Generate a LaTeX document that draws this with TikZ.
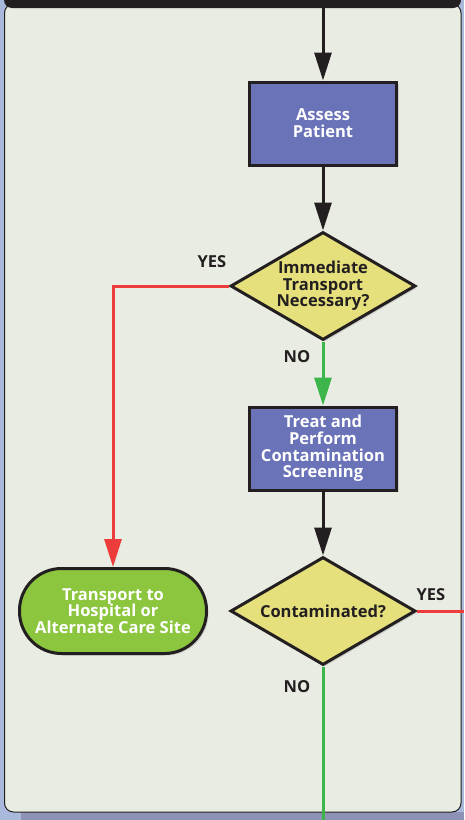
\documentclass[tikz,border=0pt]{standalone}
\usepackage{fontspec}
\setmainfont{Open Sans}
\usetikzlibrary{positioning,arrows.meta,shapes.geometric,shadows}

\definecolor{bgblue}{HTML}{A9B9DC}
\definecolor{shadowblue}{HTML}{8E93B5}
\definecolor{panel}{HTML}{E9ECE3}
\definecolor{ink}{HTML}{231F20}
\definecolor{boxblue}{HTML}{6A72B8}
\definecolor{diayellow}{HTML}{E5E07B}
\definecolor{termgreen}{HTML}{8CC63F}
\definecolor{yesred}{HTML}{EE3B3B}
\definecolor{nogreen}{HTML}{3CB54A}

\tikzset{
  flowfont/.style={font=\bfseries\fontsize{16.5}{16.7}\selectfont},
  softshadow/.style={drop shadow={opacity=0.25,shadow xshift=2pt,shadow yshift=-2pt}},
  stepbox/.style={draw=ink,line width=3pt,fill=boxblue,minimum width=147pt,minimum height=83pt,
    text=white,align=center,flowfont,softshadow},
  question/.style={diamond,draw=ink,line width=3pt,fill=diayellow,minimum width=185pt,minimum height=108pt,
    aspect=1.7,inner sep=0pt,text=ink,align=center,flowfont,softshadow},
  terminal/.style={draw=ink,line width=3pt,fill=termgreen,rounded corners=42pt,minimum width=187pt,
    minimum height=85pt,text=white,align=center,flowfont,softshadow},
  answer/.style={text=ink,flowfont},
  tip/.style={-{Triangle[length=28pt,width=17pt]}},
  flow/.style={line width=3pt,draw=ink,tip},
  yesflow/.style={line width=3pt,draw=yesred,tip},
  noflow/.style={line width=3pt,draw=nogreen,tip},
}

\begin{document}
\begin{tikzpicture}[x=1pt,y=-1pt,node distance=64pt]
  \useasboundingbox (0,0) rectangle (464,820);
  % background and panel
  \fill[bgblue] (0,0) rectangle (464,820);
  \fill[shadowblue] (21,812) rectangle (464,820);
  \filldraw[fill=panel,draw=ink,line width=1pt,rounded corners=9pt] (4.5,4) rectangle (461,812);
  \node[fill=ink,rounded corners=8pt,minimum width=457pt,minimum height=40pt,inner sep=0pt] (prev) at (232.5,-12) {};

  % steps
  \node[stepbox] (assess) at (323,123.5) {Assess\\Patient};
  \node[question,below=of assess] (transportq) {Immediate\\Transport\\Necessary?};
  \node[stepbox,below=of transportq] (treat) {Treat and\\Perform\\Contamination\\Screening};
  \node[question,below=of treat] (contam) {Contaminated?};
  \node[terminal,left=21pt of contam] (hospital) {Transport to\\Hospital or\\Alternate Care Site};

  % loose ends
  \coordinate (exitright) at (464,611);
  \coordinate (exitdown) at (323,820);

  % connectors
  \draw[flow] (prev.south -| assess.north) -- (assess);
  \draw[flow] (assess) -- (transportq);
  \draw[noflow] (transportq) -- (treat);
  \draw[yesflow] (transportq.west) -| (hospital.north);
  \draw[flow] (treat) -- (contam);
  \draw[line width=3pt,yesred] (contam.east) -- (contam.east -| exitright);
  \draw[line width=3pt,nogreen] (contam.south) -- (contam.south |- exitdown);

  % answers
  \node[answer] at (212,262) {YES};
  \node[answer] at (297,357) {NO};
  \node[answer] at (431,595) {YES};
  \node[answer] at (297,687) {NO};
\end{tikzpicture}
\end{document}
